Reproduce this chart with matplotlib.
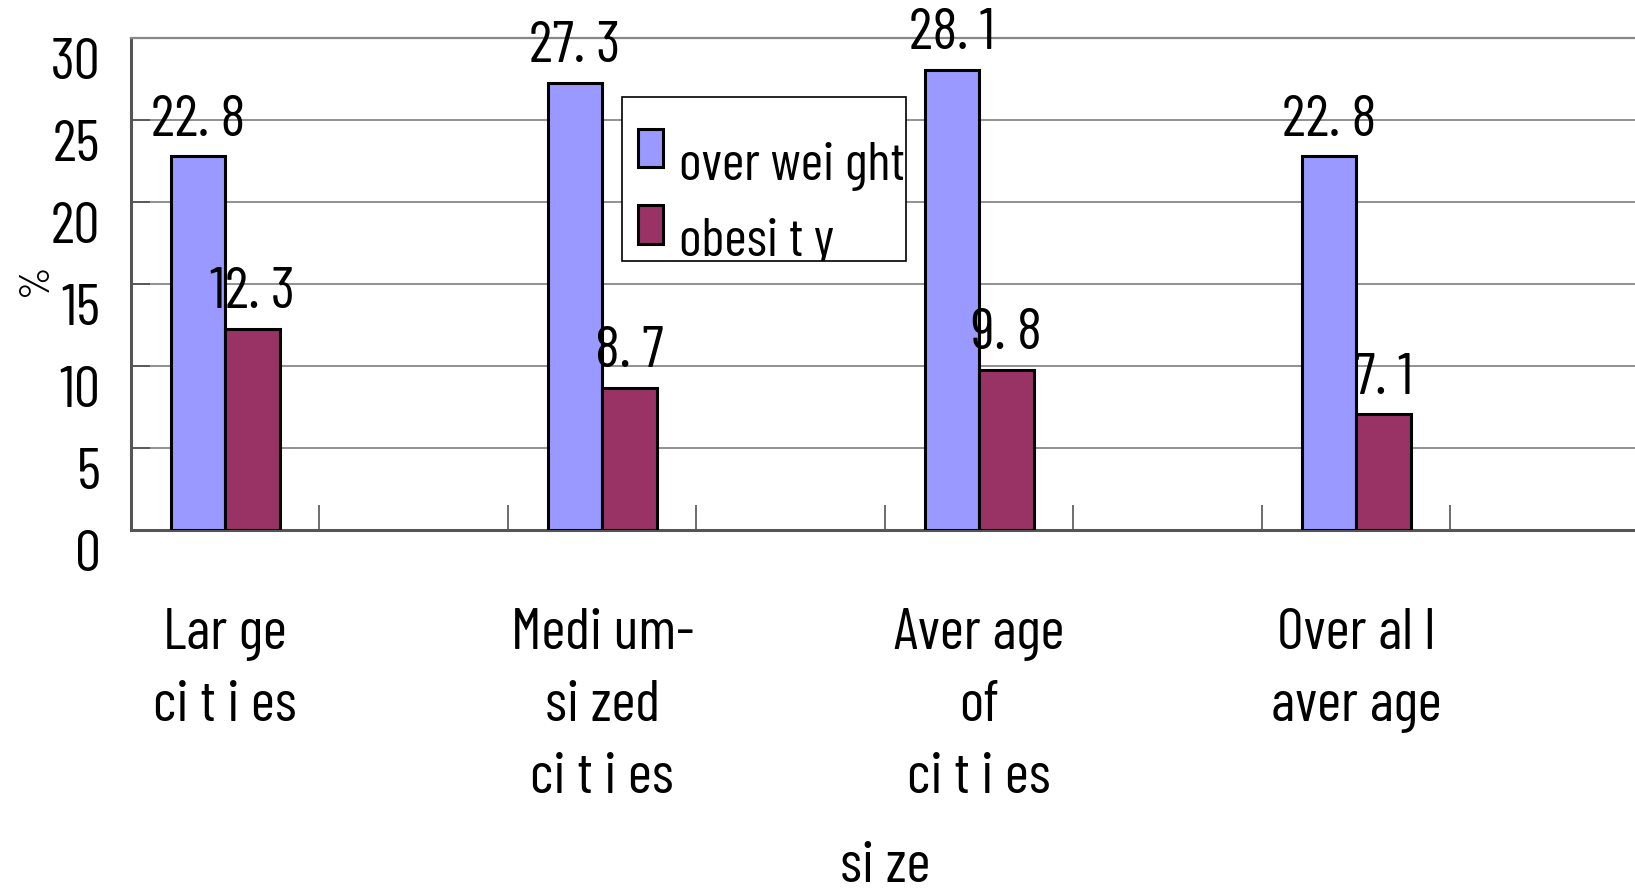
import numpy as np
import matplotlib
matplotlib.use("Agg")
import matplotlib.pyplot as plt
from matplotlib.patches import Rectangle
from matplotlib.transforms import ScaledTranslation

plt.rcParams['font.family'] = ['Barlow Condensed', 'Archivo Narrow', 'DejaVu Sans']

categories = ["Lar ge\nci t i es", "Medi um-\nsi zed\nci t i es",
              "Aver age\nof\nci t i es", "Over al l\naver age"]
overweight = [22.8, 27.3, 28.1, 22.8]
obesity = [12.3, 8.7, 9.8, 7.1]
series_names = ["over wei ght", "obesi t y"]
yticks = [0, 5, 10, 15, 20, 25, 30]

blue = '#9999FF'
red = '#993366'

fig = plt.figure(figsize=(16.35, 8.94), dpi=100)
ax = fig.add_axes([0.0801, 0.407, 0.9223, 0.550])

# groups sit on every other category slot
pos = np.arange(len(categories)) * 2
w = 0.29
b1 = ax.bar(pos - w / 2, overweight, w, color=blue, edgecolor='black', linewidth=2.2, zorder=3)
b2 = ax.bar(pos + w / 2, obesity, w, color=red, edgecolor='black', linewidth=2.2, zorder=3)

for bars in (b1, b2):
    for r in bars:
        v = r.get_height()
        ax.text(r.get_x() + r.get_width() / 2, v + 0.5, f"{v:.1f}".replace('.', '. '),
                ha='center', va='bottom', fontsize=42, zorder=4)

ax.set_xlim(-0.5, 2 * len(categories) - 0.5)
ax.set_ylim(0, 30)
ax.set_yticks(yticks)
ax.yaxis.grid(True, color='#888888', linewidth=1.3, zorder=0)
ax.tick_params(axis='y', direction='in', length=14, width=1.3, color='#555555',
               labelsize=42, pad=22)
for lab in ax.get_yticklabels():
    lab.set_verticalalignment('top')

ax.set_xticks(pos)
ax.set_xticklabels(categories, fontsize=42, linespacing=1.46)
ax.tick_params(axis='x', which='major', length=0, pad=56)
ax.set_xticks(np.arange(0.5, 2 * len(categories) - 1, 1), minor=True)
ax.tick_params(axis='x', which='minor', direction='in', length=18, width=1.2, color='#555555')

for s in ('left', 'bottom'):
    ax.spines[s].set_color('#555555')
    ax.spines[s].set_linewidth(2.2)
ax.spines['top'].set_color('#888888')
ax.spines['top'].set_linewidth(1.6)
ax.spines['right'].set_visible(False)

ax.set_ylabel('%', fontsize=30)
ax.yaxis.set_label_coords(-0.050, 0.51)
ax.set_xlabel('si ze', fontsize=42)
ax.xaxis.set_label_coords(0.5, -0.633)

# legend with a fixed frame that crops its lower entry
frame = Rectangle((0.3807, 0.7084), 0.1734, 0.1831, transform=fig.transFigure,
                  facecolor='white', edgecolor='black', linewidth=1.2, zorder=5,
                  clip_on=False)
ax.add_patch(frame)
leg = ax.legend([b1, b2], series_names, loc='upper left',
                bbox_to_anchor=(0.3902, 0.856), bbox_transform=fig.transFigure,
                frameon=False, fontsize=39, handlelength=0.46, handleheight=0.72,
                handletextpad=0.3, labelspacing=0.5, borderaxespad=0, borderpad=0)
leg.set_zorder(6)
# labels sit a little lower than their swatches
drop = ScaledTranslation(0, -9.4 / 72, fig.dpi_scale_trans)
for t in leg.get_texts():
    t.set_transform(t.get_transform() + drop)
    t.set_clip_path(frame)
for h in leg.legend_handles:
    h.set_clip_path(frame)

fig.savefig('out.png', dpi=100)
